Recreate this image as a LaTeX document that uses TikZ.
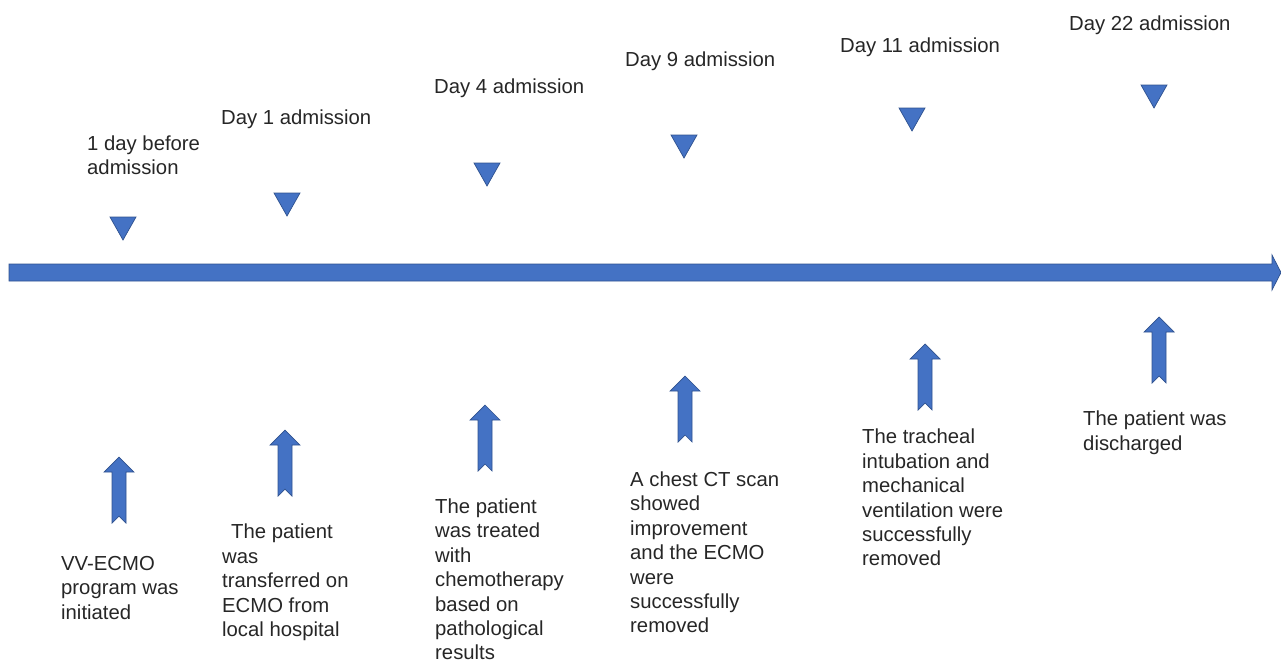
\documentclass[tikz,border=0pt]{standalone}
\usepackage{fontspec}
\setmainfont{Liberation Sans}
\definecolor{tlblue}{HTML}{4472C4}
\definecolor{tledge}{HTML}{2F528F}
\definecolor{tltext}{HTML}{262626}
\newcommand{\tlstrut}{\rule{0pt}{15pt}}
\begin{document}
\begin{tikzpicture}[x=1pt,y=-1pt,
  lbl/.style={anchor=north west, inner sep=0pt, align=left, text=tltext,
    font=\fontsize{20.3}{24.4}\selectfont, execute at begin node=\tlstrut},
  shp/.style={fill=tlblue, draw=tledge, line width=0.7pt, line join=miter},
  ]
\useasboundingbox (0,0) rectangle (1281,662);
% main timeline arrow
\draw[shp] (9,264) -- (1272,264) -- (1272,255) -- (1281,272.5) -- (1272,290) -- (1272,281) -- (9,281) -- cycle;
% down triangles
\foreach \c/\t in {123/217, 287/193, 487/163, 684/135, 912/108, 1154/85}{
  \draw[shp] (\c-13,\t) -- (\c+13,\t) -- (\c,\t+23) -- cycle;
}
% up arrows
\foreach \c/\t in {119/457, 285/430, 485/405, 685/376, 925/344, 1159/317}{
  \draw[shp] (\c,\t) -- (\c+15,\t+15) -- (\c+7,\t+15) -- (\c+7,\t+66) -- (\c,\t+59)
    -- (\c-7,\t+66) -- (\c-7,\t+15) -- (\c-15,\t+15) -- cycle;
}
% top labels
\node[lbl] (t1) at (87,135.5) {1 day before\\admission};
\node[lbl] (t2) at (221,109.5) {Day 1 admission};
\node[lbl] (t3) at (434,78.5) {Day 4 admission};
\node[lbl] (t4) at (625,51.5) {Day 9 admission};
\node[lbl] (t5) at (840,37.5) {Day 11 admission};
\node[lbl] (t6) at (1069,15.5) {Day 22 admission};
% bottom labels
\node[lbl] (b1) at (61,556) {VV-ECMO\\program was\\initiated};
\node[lbl] (b2) at (222,524) {\hspace*{9pt}The patient\\was\\transferred on\\ECMO from\\local hospital};
\node[lbl] (b3) at (435,498.5) {The patient\\was treated\\with\\chemotherapy\\based on\\pathological\\results};
\node[lbl] (b4) at (630,471.5) {A chest CT scan\\showed\\improvement\\and the ECMO\\were\\successfully\\removed};
\node[lbl] (b5) at (862,429) {The tracheal\\intubation and\\mechanical\\ventilation were\\successfully\\removed};
\node[lbl] (b6) at (1083,411) {The patient was\\discharged};
\end{tikzpicture}
\end{document}
